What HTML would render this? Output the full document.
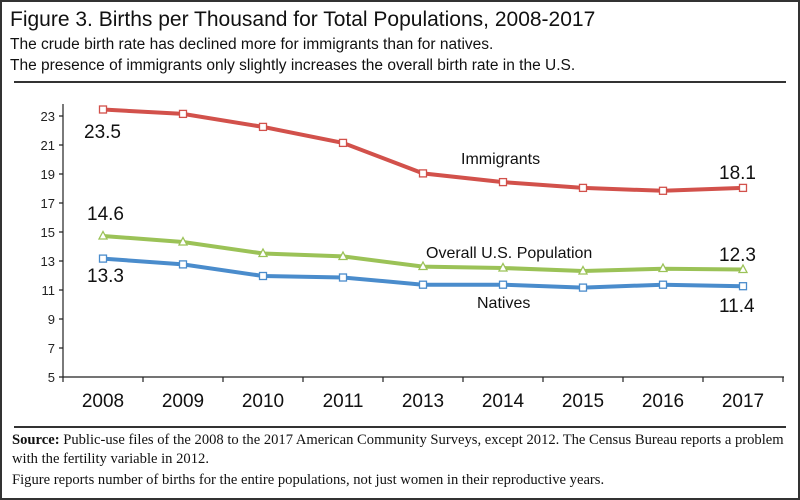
<!DOCTYPE html>
<html><head><meta charset="utf-8"><style>
body{margin:0;background:#fff;}
.w{position:relative;width:796px;height:496px;border:2px solid #333;overflow:hidden;font-family:"Liberation Sans",sans-serif;}
.t{position:absolute;left:8px;top:6px;font-size:21px;color:#111;}
.s{position:absolute;left:8px;font-size:15.5px;color:#111;}
.f{position:absolute;left:10px;font-family:"Liberation Serif",serif;font-size:14.6px;color:#111;white-space:nowrap;}
</style></head><body><div class="w">
<div class="t">Figure 3. Births per Thousand for Total Populations, 2008-2017</div>
<div class="s" style="top:34px">The crude birth rate has declined more for immigrants than for natives.</div>
<div class="s" style="top:55px">The presence of immigrants only slightly increases the overall birth rate in the U.S.</div>
<svg width="796" height="496" style="position:absolute;left:0;top:0" font-family="Liberation Sans, sans-serif">
<line x1="12" y1="80" x2="784" y2="80" stroke="#333" stroke-width="2"/>
<line x1="12" y1="425" x2="784" y2="425" stroke="#333" stroke-width="2"/>
<g stroke="#222" stroke-width="1.2">
<line x1="61" y1="102" x2="61" y2="375"/>
<line x1="61" y1="375" x2="782" y2="375"/>
<path d="M57 114H61M57 143H61M57 172H61M57 201H61M57 230H61M57 259H61M57 288H61M57 317H61M57 346H61M57 375H61"/>
<path d="M61 375V380M141 375V380M221 375V380M301 375V380M381 375V380M461 375V380M541 375V380M621 375V380M701 375V380M781 375V380"/>
</g>
<g font-size="13" fill="#222" text-anchor="end">
<text x="53" y="119">23</text><text x="53" y="148">21</text><text x="53" y="177">19</text><text x="53" y="206">17</text><text x="53" y="235">15</text><text x="53" y="264">13</text><text x="53" y="293">11</text><text x="53" y="322">9</text><text x="53" y="351">7</text><text x="53" y="380">5</text>
</g>
<g font-size="19" fill="#111" text-anchor="middle">
<text x="101" y="405">2008</text><text x="181" y="405">2009</text><text x="261" y="405">2010</text><text x="341" y="405">2011</text><text x="421" y="405">2013</text><text x="501" y="405">2014</text><text x="581" y="405">2015</text><text x="661" y="405">2016</text><text x="741" y="405">2017</text>
</g>
<polyline fill="none" stroke="#d2514b" stroke-width="4" points="101,107.5 181,111.9 261,124.9 341,140.9 421,171.4 501,180.1 581,185.9 661,188.8 741,185.9"/>
<polyline fill="none" stroke="#9bc257" stroke-width="4" points="101,234 181,240 261,251.5 341,254.4 421,264.6 501,266 581,269 661,266.7 741,267.5"/>
<polyline fill="none" stroke="#4a8ccc" stroke-width="4" points="101,256.6 181,262.4 261,274 341,275.5 421,282.7 501,282.7 581,285.6 661,282.7 741,284.2"/>
<g fill="#fff" stroke="#d2514b" stroke-width="1.3">
<rect x="97.5" y="104" width="7" height="7"/><rect x="177.5" y="108.4" width="7" height="7"/><rect x="257.5" y="121.4" width="7" height="7"/><rect x="337.5" y="137.4" width="7" height="7"/><rect x="417.5" y="167.9" width="7" height="7"/><rect x="497.5" y="176.6" width="7" height="7"/><rect x="577.5" y="182.4" width="7" height="7"/><rect x="657.5" y="185.3" width="7" height="7"/><rect x="737.5" y="182.4" width="7" height="7"/>
</g>
<g fill="#fff" stroke="#4a8ccc" stroke-width="1.3">
<rect x="97.5" y="253.1" width="7" height="7"/><rect x="177.5" y="258.9" width="7" height="7"/><rect x="257.5" y="270.5" width="7" height="7"/><rect x="337.5" y="272" width="7" height="7"/><rect x="417.5" y="279.2" width="7" height="7"/><rect x="497.5" y="279.2" width="7" height="7"/><rect x="577.5" y="282.1" width="7" height="7"/><rect x="657.5" y="279.2" width="7" height="7"/><rect x="737.5" y="280.7" width="7" height="7"/>
</g>
<g fill="#fff" stroke="#9bc257" stroke-width="1.3">
<path d="M101 229.5L105 237L97 237Z"/><path d="M181 235.5L185 243L177 243Z"/><path d="M261 247L265 254.5L257 254.5Z"/><path d="M341 250L345 257.5L337 257.5Z"/><path d="M421 260L425 267.5L417 267.5Z"/><path d="M501 261.5L505 269L497 269Z"/><path d="M581 264.5L585 272L577 272Z"/><path d="M661 262L665 269.5L657 269.5Z"/><path d="M741 263L745 270.5L737 270.5Z"/>
</g>
<g font-size="19" fill="#111">
<text x="82" y="136">23.5</text><text x="85" y="218">14.6</text><text x="85" y="280">13.3</text>
<text x="717" y="177">18.1</text><text x="717" y="259">12.3</text><text x="717" y="310">11.4</text>
</g>
<g font-size="16" fill="#111">
<text x="459" y="162">Immigrants</text><text x="424" y="256">Overall U.S. Population</text><text x="475" y="306">Natives</text>
</g>
</svg>
<div class="f" style="top:430px"><b>Source:</b> Public-use files of the 2008 to the 2017 American Community Surveys, except 2012. The Census Bureau reports a problem</div>
<div class="f" style="top:449px">with the fertility variable in 2012.</div>
<div class="f" style="top:470px">Figure reports number of births for the entire populations, not just women in their reproductive years.</div>
</div></body></html>
